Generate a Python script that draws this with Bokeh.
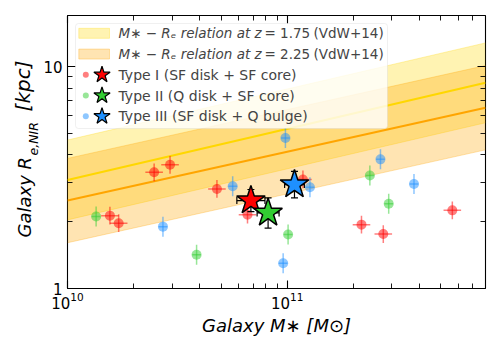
import numpy as np
from bokeh.plotting import figure
from bokeh.models import LogAxis, FixedTicker, BasicTickFormatter, Label, BoxAnnotation, Range1d, Title
from bokeh.embed import file_html
from bokeh.resources import INLINE

# ---------------- data ----------------
type1_mass = [1.56e10, 1.71e10, 2.48e10, 2.93e10, 4.79e10, 6.6e10, 1.18e11, 2.18e11, 2.74e11, 5.65e11]
type1_re = [2.13, 1.97, 3.34, 3.61, 2.81, 2.15, 3.10, 1.94, 1.76, 2.25]
type2_mass = [1.35e10, 3.87e10, 1.01e11, 2.38e11, 2.90e11]
type2_re = [2.11, 1.42, 1.75, 3.23, 2.41]
type3_mass = [2.72e10, 5.65e10, 9.82e10, 9.59e10, 1.27e11, 2.66e11, 3.78e11]
type3_re = [1.90, 2.89, 4.77, 1.30, 2.86, 3.82, 2.96]

point_xerr = [0.04, 0.02, 0.02]   # dex, per type
point_yerr = [0.04, 0.045, 0.045]

mean_mass = [6.84e10, 8.19e10, 1.08e11]
mean_re = [2.49, 2.19, 2.94]
mean_xerr = [0.064, 0.05, 0.045]
mean_yerr = [0.05, 0.068, 0.06]

type_labels = ["Type I (SF disk + SF core)", "Type II (Q disk + SF core)", "Type III (SF disk + Q bulge)"]
type_colors = ["#FF0000", "#32CD32", "#1E90FF"]

vdw_z = ["1.75", "2.25"]
vdw_logA = [0.65, 0.55]
vdw_alpha = [0.23, 0.22]
vdw_sigma = [0.18, 0.19]
vdw_colors = ["#FFD700", "#FFA500"]

x_ticks = [1e10, 1e11]
x_minor = [2e10, 3e10, 4e10, 5e10, 6e10, 7e10, 8e10, 9e10, 2e11, 3e11, 4e11, 5e11, 6e11, 7e11]
y_ticks = [1, 10]
y_minor = [2, 3, 4, 5, 6, 7, 8, 9]

X0, X1, Y0, Y1 = 1e10, 8e11, 1.0, 17.0
W, H = 500, 350
FL, FT, FW, FH = 67, 15, 418, 273
FONT = "DejaVu Sans"

p = figure(width=W, height=H, x_axis_type="log", y_axis_type="log",
           x_range=Range1d(X0, X1), y_range=Range1d(Y0, Y1),
           output_backend="svg", toolbar_location=None,
           min_border_left=FL, min_border_top=FT,
           min_border_right=W - FL - FW, min_border_bottom=H - FT - FH)
p.add_layout(LogAxis(), "above")
p.add_layout(LogAxis(), "right")
p.xgrid.visible = False
p.ygrid.visible = False
p.outline_line_color = "black"
p.outline_line_width = 1.1
p.background_fill_color = "white"
p.border_fill_color = "white"

for ax in list(p.xaxis) + list(p.yaxis):
    ax.axis_line_color = None
    ax.major_tick_in = 8
    ax.major_tick_out = 0
    ax.minor_tick_in = 5
    ax.minor_tick_out = 0
    ax.major_tick_line_color = "black"
    ax.major_tick_line_width = 1.1
    ax.minor_tick_line_color = "black"
    ax.minor_tick_line_width = 0.9
    ax.major_label_text_font = FONT
    ax.major_label_text_font_size = "15px"
    ax.major_label_text_color = "black"
for ax in p.xaxis:
    ax.ticker = FixedTicker(ticks=x_ticks, minor_ticks=x_minor)
for ax in p.yaxis:
    ax.ticker = FixedTicker(ticks=y_ticks, minor_ticks=y_minor)
    ax.formatter = BasicTickFormatter()
p.below[0].major_label_standoff = 3
p.left[0].major_label_standoff = 5
p.above[0].major_label_overrides = {t: "" for t in x_ticks}
p.above[0].major_label_standoff = 0
p.right[0].major_label_overrides = {t: "" for t in y_ticks}
p.right[0].major_label_standoff = 0

# x-axis title
xa = p.below[0]
xa.axis_label = "Galaxy M∗ [M⊙]"
xa.axis_label_text_font = FONT
xa.axis_label_text_font_style = "italic"
xa.axis_label_text_font_size = "18px"
xa.axis_label_text_color = "black"
xa.axis_label_standoff = 3

# y-axis title, built from pieces (subscript, main text, unit)
def ytitle(text, size, align, offset, standoff):
    return Title(text=text, align=align, offset=offset, vertical_align="bottom", standoff=standoff,
                 text_font=FONT, text_font_style="italic", text_font_size=size, text_color="black")

p.add_layout(ytitle("e,NIR", "12.5px", "left", 133, 0), "left")
p.add_layout(ytitle("Galaxy R", "18px", "left", 51, -22), "left")
p.add_layout(ytitle("[kpc]", "20px", "right", 45, -25), "left")

# ---------------- van der Wel+14 relations ----------------
m_line = np.array([X0, X1])
for logA, alpha, sig, col in zip(vdw_logA, vdw_alpha, vdw_sigma, vdw_colors):
    logr = logA + alpha * (np.log10(m_line) - np.log10(5e10))
    up, lo = 10 ** (logr + sig), 10 ** (logr - sig)
    p.varea(x=m_line, y1=lo, y2=up, fill_color=col, fill_alpha=0.3)
    p.line(m_line, up, line_color=col, line_alpha=0.3, line_width=1)
    p.line(m_line, lo, line_color=col, line_alpha=0.3, line_width=1)
for logA, alpha, col in zip(vdw_logA, vdw_alpha, vdw_colors):
    logr = logA + alpha * (np.log10(m_line) - np.log10(5e10))
    p.line(m_line, 10 ** logr, line_color=col, line_width=2)

# ---------------- individual galaxies ----------------
for mass, re, col, xe, ye in zip([type1_mass, type2_mass, type3_mass], [type1_re, type2_re, type3_re],
                                 type_colors, point_xerr, point_yerr):
    m = np.array(mass); r = np.array(re)
    p.segment(m * 10 ** -xe, r, m * 10 ** xe, r, line_color=col, line_alpha=0.5, line_width=1.5)
    p.segment(m, r * 10 ** -ye, m, r * 10 ** ye, line_color=col, line_alpha=0.5, line_width=1.5)
    p.scatter(m, r, marker="circle", size=10, fill_color=col, fill_alpha=0.5, line_color=None)

# ---------------- means (stars) ----------------
for i in range(3):
    m, r = mean_mass[i], mean_re[i]
    xe, ye = mean_xerr[i], mean_yerr[i]
    p.segment([m * 10 ** -xe, m], [r, r * 10 ** -ye], [m * 10 ** xe, m], [r, r * 10 ** ye],
              line_color="black", line_width=1.2)
    p.scatter([m, m], [r * 10 ** -ye, r * 10 ** ye], marker="dash", size=7, line_color="black", line_width=1.2)
    p.scatter([m * 10 ** -xe, m * 10 ** xe], [r, r], marker="dash", angle=np.pi / 2, size=7,
              line_color="black", line_width=1.2)
    p.scatter([m], [r], marker="star", size=30, fill_color=type_colors[i], line_color="black", line_width=1.5)

# ---------------- legend (drawn by hand) ----------------
def dx(fx):
    return 10 ** (np.log10(X0) + fx / FW * np.log10(X1 / X0))

def dy(fy):
    return 10 ** (np.log10(Y1) - fy / FH * np.log10(Y1 / Y0))

box = BoxAnnotation(left=dx(8), right=dx(320), top=dy(8), bottom=dy(113),
                    fill_color="white", fill_alpha=0.8, line_color="#cccccc", line_width=1,
                    border_radius=3, level="annotation")
p.add_layout(box)

LEG_FS = "14px"
REL_FS = "13.5px"
rows = [17.8 + 20.75 * i for i in range(5)]
for i, col in enumerate(vdw_colors):
    fy = rows[i]
    p.quad(left=[dx(11.3)], right=[dx(42)], top=[dy(fy - 5)], bottom=[dy(fy + 5)],
           fill_color=col, fill_alpha=0.3, line_color=col, line_alpha=0.3, level="overlay")
    p.add_layout(Label(x=X0, y=Y1, x_offset=51, y_offset=-fy,
                       text="M∗ − Rₑ relation at z", text_font=FONT, text_font_style="italic",
                       text_font_size=REL_FS, text_baseline="middle", text_align="left", level="overlay"))
    p.add_layout(Label(x=X0, y=Y1, x_offset=197, y_offset=-fy,
                       text="= " + vdw_z[i], text_font=FONT,
                       text_font_size=REL_FS, text_baseline="middle", text_align="left", level="overlay"))
    p.add_layout(Label(x=X0, y=Y1, x_offset=246, y_offset=-fy,
                       text="(VdW+14)", text_font=FONT,
                       text_font_size=REL_FS, text_baseline="middle", text_align="left", level="overlay"))
for i, col in enumerate(type_colors):
    fy = rows[i + 2]
    p.scatter([dx(18.3)], [dy(fy)], marker="circle", size=6, fill_color=col, fill_alpha=0.5,
              line_color=None, level="overlay")
    p.scatter([dx(34.5)], [dy(fy)], marker="star", size=17, fill_color=col, line_color="black",
              line_width=1.2, level="overlay")
    p.add_layout(Label(x=X0, y=Y1, x_offset=51, y_offset=-fy, text=type_labels[i], text_font=FONT,
                       text_font_size=LEG_FS, text_baseline="middle", text_align="left", level="overlay"))

open("out.html", "w").write(file_html(p, INLINE))
